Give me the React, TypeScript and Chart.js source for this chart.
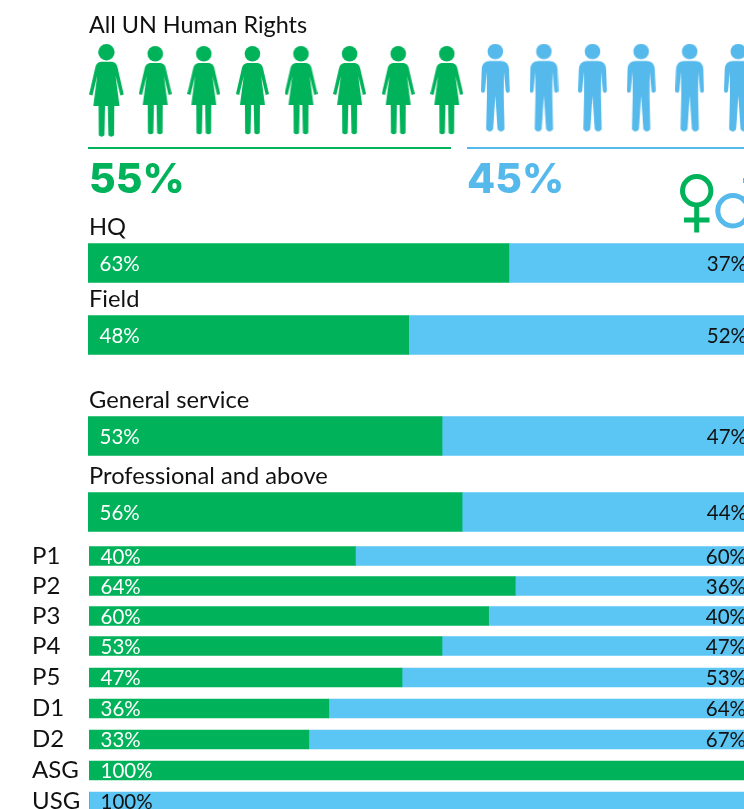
import React, { useEffect, useRef } from "react";
import { Chart, registerables } from "chart.js";

Chart.register(...registerables);

const GREEN = "#00B259";
const BAR_BLUE = "#5BC5F3";
const ICON_BLUE = "#56B9EB";
const FONT = "Lato, sans-serif";

const headerTitle = "All UN Human Rights";
const womenShare = "55%";
const menShare = "45%";
const womenIconSlots = [0, 1, 2, 3, 4, 5, 6, 7];
const menIconSlots = [8, 9, 10, 11, 12, 13];

const locationLabels = ["HQ", "Field"];
const locationWomen = [63, 48];
const locationMen = [37, 52];

const categoryLabels = ["General service", "Professional and above"];
const categoryWomen = [53, 56];
const categoryMen = [47, 44];

const juniorLabels = ["P1", "P2", "P3", "P4"];
const juniorWomen = [40, 64, 60, 53];
const juniorMen = [60, 36, 40, 47];

const seniorLabels = ["P5", "D1", "D2", "ASG", "USG"];
const seniorWomen = [47, 36, 33, 100, 0];
const seniorMen = [53, 64, 67, 0, 100];

function makeIcon(w: number, h: number, scale: number, draw: (c: CanvasRenderingContext2D) => void) {
  const cv = document.createElement("canvas");
  cv.width = w;
  cv.height = h;
  const c = cv.getContext("2d")!;
  c.scale(scale, scale);
  draw(c);
  return cv;
}

function drawWoman(c: CanvasRenderingContext2D) {
  c.fillStyle = GREEN;
  c.beginPath();
  c.arc(16.5, 7.8, 7.8, 0, Math.PI * 2);
  c.fill();
  c.beginPath();
  c.moveTo(11.5, 17);
  c.lineTo(21.5, 17);
  c.quadraticCurveTo(26, 17.5, 27, 22);
  c.lineTo(33, 48);
  c.lineTo(29.8, 49);
  c.lineTo(25.2, 30);
  c.lineTo(29, 59);
  c.lineTo(24, 59);
  c.lineTo(23.8, 87);
  c.quadraticCurveTo(21, 89.5, 18.4, 87);
  c.lineTo(17.8, 59);
  c.lineTo(15.2, 59);
  c.lineTo(14.6, 87);
  c.quadraticCurveTo(12, 89.5, 9.2, 87);
  c.lineTo(9, 59);
  c.lineTo(4, 59);
  c.lineTo(7.8, 30);
  c.lineTo(3.2, 49);
  c.lineTo(0, 48);
  c.lineTo(6, 22);
  c.quadraticCurveTo(7, 17.5, 11.5, 17);
  c.closePath();
  c.fill();
}

function drawMan(c: CanvasRenderingContext2D) {
  c.fillStyle = ICON_BLUE;
  c.beginPath();
  c.arc(14.4, 7.8, 7.8, 0, Math.PI * 2);
  c.fill();
  c.beginPath();
  c.moveTo(9, 17.2);
  c.lineTo(19.8, 17.2);
  c.quadraticCurveTo(27.5, 17.5, 28, 25);
  c.lineTo(28.8, 47.5);
  c.quadraticCurveTo(26.8, 50.5, 24.8, 47.5);
  c.lineTo(23, 28);
  c.lineTo(22.8, 52);
  c.lineTo(23.6, 85.5);
  c.quadraticCurveTo(20, 90, 16.6, 85.5);
  c.lineTo(14.4, 52);
  c.lineTo(12.2, 85.5);
  c.quadraticCurveTo(8.8, 90, 5.2, 85.5);
  c.lineTo(6, 52);
  c.lineTo(5.8, 28);
  c.lineTo(4, 47.5);
  c.quadraticCurveTo(2, 50.5, 0, 47.5);
  c.lineTo(0.8, 25);
  c.quadraticCurveTo(1.3, 17.5, 9, 17.2);
  c.closePath();
  c.fill();
}

const headerDecor = {
  id: "headerDecor",
  afterDatasetsDraw(chart: any) {
    const c: CanvasRenderingContext2D = chart.ctx;
    c.save();
    c.textBaseline = "alphabetic";
    c.textAlign = "left";
    c.fillStyle = "#111";
    c.font = `400 23.4px ${FONT}`;
    c.fillText(headerTitle, 89, 33);

    c.fillStyle = GREEN;
    c.fillRect(88, 147, 363, 2);
    c.fillStyle = ICON_BLUE;
    c.fillRect(467, 147, 277, 2);

    c.font = `800 41px Inter, sans-serif`;
    c.fillStyle = GREEN;
    c.fillText(womenShare, 89, 193);
    c.fillStyle = ICON_BLUE;
    c.fillText(menShare, 467, 193);

    // Venus symbol
    c.strokeStyle = GREEN;
    c.lineWidth = 5;
    c.beginPath();
    c.arc(696.7, 190.7, 14.2, 0, Math.PI * 2);
    c.moveTo(696.7, 205);
    c.lineTo(696.7, 232.5);
    c.moveTo(684, 220);
    c.lineTo(709.5, 220);
    c.stroke();

    // Mars symbol
    c.strokeStyle = ICON_BLUE;
    c.beginPath();
    c.arc(733, 210.7, 15.2, 0, Math.PI * 2);
    c.moveTo(743.5, 200);
    c.lineTo(760, 183);
    c.moveTo(743, 180.5);
    c.lineTo(762, 180.5);
    c.stroke();
    c.restore();
  },
};

function HeaderPanel() {
  const ref = useRef<HTMLCanvasElement>(null);
  useEffect(() => {
    const woman = makeIcon(33, 90, 1, drawWoman);
    const firstWoman = makeIcon(35, 94, 1.05, drawWoman);
    const man = makeIcon(29, 90, 1, drawMan);
    const pitch = 48.6;
    const origin = 106.6;
    const chart = new Chart(ref.current!, {
      type: "scatter",
      data: {
        datasets: [
          {
            label: "Women",
            data: womenIconSlots.map((s) => ({ x: s, y: 91 })),
            pointStyle: womenIconSlots.map((s) => (s === 0 ? firstWoman : woman)) as any,
            pointRadius: 5,
          },
          {
            label: "Men",
            data: menIconSlots.map((s) => ({ x: s, y: 88.7 })),
            pointStyle: man as any,
            pointRadius: 5,
          },
        ],
      },
      options: {
        animation: false,
        responsive: false,
        layout: { padding: 0, autoPadding: false },
        plugins: { legend: { display: false }, tooltip: { enabled: false }, title: { display: false } },
        scales: {
          x: { type: "linear", display: false, min: -origin / pitch, max: (744 - origin) / pitch },
          y: { type: "linear", display: false, min: 0, max: 240, reverse: true },
        },
      },
      plugins: [headerDecor],
    });
    return () => chart.destroy();
  }, []);
  return <canvas ref={ref} width={744} height={240} style={{ position: "absolute", left: 0, top: 0 }} />;
}

const barText = {
  id: "barText",
  afterDatasetsDraw(chart: any, _args: any, opts: any) {
    const c: CanvasRenderingContext2D = chart.ctx;
    const x = chart.scales.x;
    const labels: string[] = chart.data.labels;
    const women: number[] = chart.data.datasets[0].data;
    const men: number[] = chart.data.datasets[1].data;
    const barsW = chart.getDatasetMeta(0).data;
    const valueFont = `400 20.5px ${FONT}`;
    c.save();
    c.textBaseline = "middle";
    c.font = valueFont;
    labels.forEach((name, i) => {
      const cy = barsW[i].y + opts.textShift;
      if (women[i] > 0) {
        c.textAlign = "left";
        c.fillStyle = "#FFFFFF";
        c.fillText(`${women[i]}%`, x.left + 11.5, cy);
      }
      if (men[i] > 0) {
        c.fillStyle = "#111";
        if (women[i] > 0) {
          c.textAlign = "right";
          c.fillText(`${men[i]}%`, x.right - 9, cy);
        } else {
          c.textAlign = "left";
          c.fillText(`${men[i]}%`, x.left + 11.5, cy);
        }
      }
      if (opts.showTitles) {
        c.textAlign = "left";
        c.textBaseline = "alphabetic";
        c.fillStyle = "#111";
        c.font = `400 23.7px ${FONT}`;
        c.fillText(name, x.left + 1, barsW[i].y - opts.thickness / 2 - 9);
        c.textBaseline = "middle";
        c.font = valueFont;
      }
    });
    c.restore();
  },
};

type PanelProps = {
  labels: string[];
  women: number[];
  men: number[];
  top: number;
  pitch: number;
  thickness: number;
  titles: boolean;
};

function BarPanel({ labels, women, men, top, pitch, thickness, titles }: PanelProps) {
  const ref = useRef<HTMLCanvasElement>(null);
  const padTop = titles ? 40 : 0;
  const height = labels.length * pitch + padTop;
  useEffect(() => {
    const chart = new Chart(ref.current!, {
      type: "bar",
      data: {
        labels,
        datasets: [
          { label: "Women", data: women, backgroundColor: GREEN, barThickness: thickness, borderWidth: 0, stack: "s" },
          { label: "Men", data: men, backgroundColor: BAR_BLUE, barThickness: thickness, borderWidth: 0, stack: "s" },
        ],
      },
      options: {
        indexAxis: "y",
        animation: false,
        responsive: false,
        layout: {
          autoPadding: false,
          padding: { top: padTop, bottom: 0, left: titles ? 88 : 32, right: titles ? 4 : 5 },
        },
        plugins: {
          legend: { display: false },
          tooltip: { enabled: false },
          title: { display: false },
          barText: { showTitles: titles, thickness, textShift: 1 },
        } as any,
        scales: {
          x: { type: "linear", display: false, stacked: true, min: 0, max: 100 },
          y: {
            type: "category",
            stacked: true,
            display: !titles,
            border: { display: false },
            grid: { display: false, drawTicks: false },
            afterFit: (s: any) => {
              if (!titles) {
                s.width = 57;
                s.paddingTop = 0;
                s.paddingBottom = 0;
              }
            },
            ticks: {
              crossAlign: "far",
              autoSkip: false,
              padding: 0,
              color: "#111",
              font: { family: "Lato", size: 24, weight: "400" },
            },
          },
        },
      },
      plugins: [barText],
    });
    return () => chart.destroy();
  }, []);
  return (
    <canvas
      ref={ref}
      width={760}
      height={height}
      style={{ position: "absolute", left: 0, top: top - padTop }}
    />
  );
}

export default function App() {
  return (
    <div
      style={{
        position: "absolute",
        left: 0,
        top: 0,
        width: 744,
        height: 809,
        overflow: "hidden",
        background: "#fff",
      }}
    >
      <HeaderPanel />
      <BarPanel labels={locationLabels} women={locationWomen} men={locationMen} top={226.5} pitch={72} thickness={39} titles />
      <BarPanel labels={categoryLabels} women={categoryWomen} men={categoryMen} top={397.5} pitch={76} thickness={39} titles />
      <BarPanel labels={juniorLabels} women={juniorWomen} men={juniorMen} top={540.5} pitch={30} thickness={19} titles={false} />
      <BarPanel labels={seniorLabels} women={seniorWomen} men={seniorMen} top={662} pitch={31} thickness={19} titles={false} />
    </div>
  );
}
